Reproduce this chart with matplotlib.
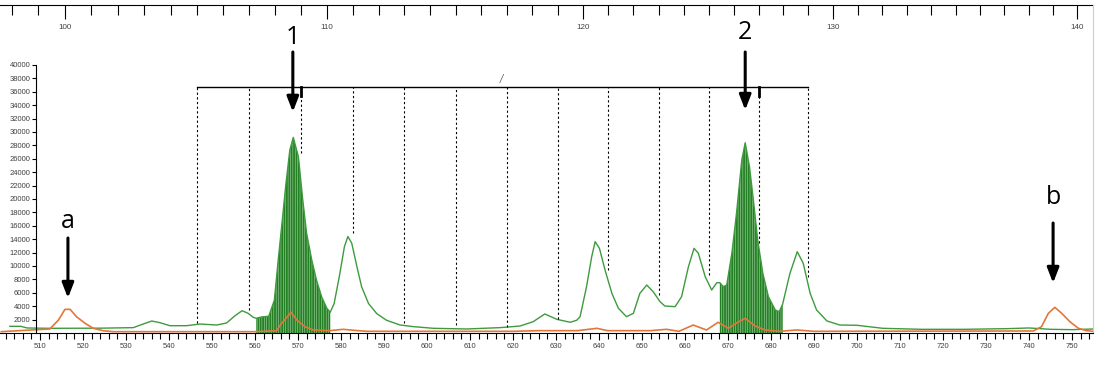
import numpy as np
import matplotlib
matplotlib.use("Agg")
from matplotlib import pyplot as plt
from matplotlib.ticker import MultipleLocator

# green trace (scan position, signal)
green_x = [503, 505.5, 507, 512, 524, 531.7, 534, 536, 537.9, 540.2, 544.1, 547.2,
           551.1, 553.4, 555.3, 557, 558.4, 559.6, 560.3, 561.6, 563.2, 564.5, 565.4,
           566.2, 567.2, 568.1, 568.9, 570.1, 571.1, 572, 573.2, 574.3, 575.5, 576.7,
           577.5, 578.4, 579.6, 580.8, 581.6, 582.5, 583.7, 584.8, 586.4, 588.3, 590.6,
           593.7, 596.8, 601.5, 609.2, 617, 621.6, 624.7, 627.4, 630.2, 633.3, 634.8,
           635.6, 637.1, 638.3, 639.1, 640.1, 641.4, 643, 644.5, 646.4, 648, 649.5,
           651.1, 652.6, 654.2, 655.3, 657.7, 659.2, 660.8, 662.1, 663.1, 664.7, 666.2,
           667.4, 668.1, 668.9, 669.7, 670.9, 672, 673.2, 674, 675, 675.9, 676.9, 678.1,
           679.4, 681, 681.9, 682.7, 684.4, 686.1, 687.5, 689.1, 690.6, 693, 696, 700,
           706, 715, 725, 735, 740, 745, 750, 755]
green_y = [1000, 1000, 750, 700, 720, 800, 1340, 1790, 1540, 1090, 1090, 1340,
           1190, 1500, 2550, 3330, 2940, 2340, 2200, 2400, 2500, 4900, 10900,
           15900, 22300, 27300, 29200, 26300, 19900, 14900, 10900, 7900, 5400, 3700,
           3100, 4400, 8400, 12900, 14400, 13400, 9900, 6900, 4400, 2900, 1900,
           1200, 950, 700, 600, 800, 1040, 1690, 2840, 2040, 1600, 1900,
           2430, 6910, 11390, 13630, 12640, 9400, 5920, 3690, 2430, 2940, 5920,
           7160, 6160, 4670, 4030, 3930, 5420, 9900, 12640, 11900, 8400, 6420,
           7510, 7510, 6910, 7160, 11900, 18000, 25800, 28400, 24800, 19850, 13900, 8900,
           5420, 3430, 3180, 4300, 8900, 12130, 10400, 5920, 3430, 1800, 1190, 1150,
           700, 550, 550, 650, 750, 550, 500, 600]

# orange trace
orange_x = [501, 512.3, 514.3, 515.8, 517, 518.5, 520.5, 522.4, 524.7, 527, 560, 565,
            566.2, 568.4, 569.7, 571.6, 573.6, 577.4, 580.5, 583, 586, 620, 626, 635,
            639.5, 642, 652, 655.7, 658.6, 661.9, 665, 667.7, 670.1, 672, 674, 676.3,
            678.6, 682, 686, 690, 741, 742.9, 744.5, 746, 747.6, 749.5, 751.5, 753.4, 755]
orange_y = [200, 600, 1940, 3530, 3530, 2430, 1440, 700, 340, 200, 200, 340,
            1440, 3100, 1940, 940, 450, 350, 550, 400, 250, 250, 350, 350,
            700, 350, 350, 550, 250, 1190, 450, 1600, 700, 1500, 2200, 1040,
            450, 250, 450, 250, 300, 940, 2940, 3830, 2940, 1690, 700, 340, 250]

# selected peak windows
fill_ranges = [(560.3, 577.5), (668.1, 682.7)]

# size bins on the top scale and where each bin line stops
bin_sizes = [105, 107, 109, 111, 113, 115, 117, 119, 121, 123, 125, 127, 129]
bin_line_bottom = [1490, 3430, 26860, 14900, 1490, 1190, 940, 2040, 9400, 5670,
                   8660, 13390, 8400]
marker_sizes = [109, 127]

labels = ["1", "2", "a", "b"]
label_x = [568.8, 674.0, 516.5, 745.6]
label_y = [44030, 44920, 16570, 20150]
arrow_tail = [41940, 41940, 14180, 16420]
arrow_tip = [33000, 33280, 5220, 7460]


# top size scale is not linear in scan position
def scan_to_px(x):
    return 40 + (np.asarray(x, dtype=float) - 510) * 4.3


def size_to_scan(t):
    u = np.asarray(t, dtype=float) - 100
    p = 65 + 26.5 * u - 0.03 * u ** 2
    return 510 + (p - 40) / 4.3


def scan_to_size(x):
    p = scan_to_px(x)
    disc = np.clip(26.5 ** 2 - 0.12 * (p - 65), 1e-6, None)
    return 100 + (26.5 - np.sqrt(disc)) / 0.06


plt.rcParams["hatch.linewidth"] = 1.3

W, H = 1097, 378
fig = plt.figure(figsize=(W / 100, H / 100), dpi=100)
ax = fig.add_axes([0, 45 / H, 1093 / W, 328 / H])
ax.set_xlim(500.7, 754.88)
ax.set_ylim(0, 48955)

gx = np.array(green_x)
gy = np.array(green_y)
for lo, hi in fill_ranges:
    m = (gx >= lo) & (gx <= hi)
    ax.fill_between(gx[m], 0, gy[m], facecolor="#a6d6a6", edgecolor="#257f25",
                    hatch="|||||||", linewidth=0)
ax.plot(gx, gy, color="#3d9b3d", lw=1.0)
ax.plot(orange_x, orange_y, color="#e3773a", lw=1.2)

# bins: bracket and dashed lines
bx = size_to_scan(bin_sizes)
ytop = 36716
ax.plot([bx[0], bx[-1]], [ytop, ytop], color="black", lw=1.0)
for x, yb in zip(bx, bin_line_bottom):
    ax.plot([x, x], [yb, ytop], color="black", lw=0.8, dashes=(2, 2.2))
for x in size_to_scan(marker_sizes):
    ax.plot([x, x], [ytop, ytop - 1300], color="black", lw=2.0)
ax.text(617.4, 37900, "/", color="#666666", fontsize=7, ha="center", va="center",
        style="italic")

for s, x, y, t0, t1 in zip(labels, label_x, label_y, arrow_tail, arrow_tip):
    ax.text(x, y, s, fontsize=18, family="Open Sans", ha="center", va="center")
    ax.annotate("", xy=(x, t1), xytext=(x, t0),
                arrowprops=dict(arrowstyle="-|>,head_length=0.9,head_width=0.35",
                                color="black", lw=2.2, shrinkA=0, shrinkB=0))

# axes styling
ax.spines["left"].set_position(("data", 509.1))
ax.spines["left"].set_bounds(0, 40000)
ax.spines["top"].set_visible(False)
ax.spines["right"].set_color("#cccccc")
ax.set_yticks(np.arange(2000, 40001, 2000))
ax.tick_params(axis="y", direction="out", length=3, width=0.8, pad=1,
               labelsize=5.5, labelcolor="#404040")
ax.set_xticks(np.arange(510, 751, 10))
ax.xaxis.set_minor_locator(MultipleLocator(2))
ax.tick_params(axis="x", which="major", direction="out", length=5, width=0.8,
               pad=2, labelsize=5.5, labelcolor="#404040")
ax.tick_params(axis="x", which="minor", direction="out", length=4, width=0.8)
for t in ax.get_xticklabels() + ax.get_yticklabels():
    t.set_family("Liberation Sans")

top = ax.secondary_xaxis("top", functions=(scan_to_size, size_to_scan))
top.set_xticks(np.arange(100, 141, 10))
top.set_xticks(np.arange(98, 141, 1), minor=True)
top.tick_params(which="major", direction="in", length=10, width=0.8, pad=-18.7,
                labelsize=5.8, labelcolor="#404040")
top.tick_params(which="minor", direction="in", length=7, width=0.8)
for t in top.get_xticklabels():
    t.set_family("Liberation Sans")

fig.savefig("out.png", dpi=100)
